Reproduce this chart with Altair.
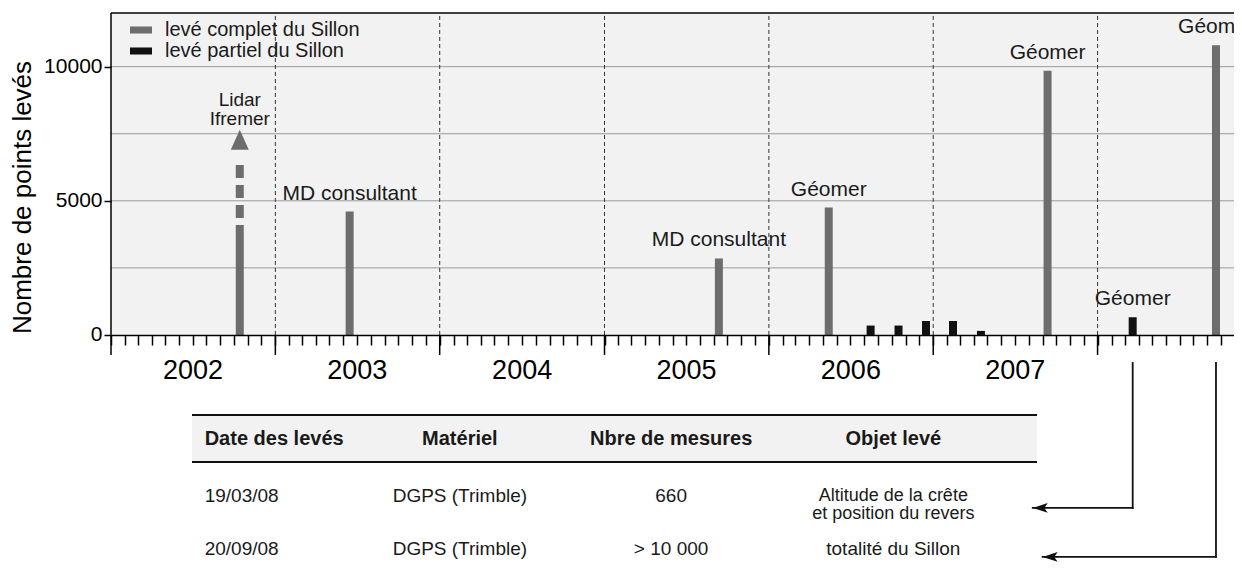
import json
import altair as alt
import pandas as pd

# ------------------------------------------------------------------ data
COMPLETE_LABEL = "levé complet du Sillon"
PARTIAL_LABEL = "levé partiel du Sillon"

complete_dates = ["2002-10-14", "2003-06-15", "2005-09-12", "2006-05-14", "2007-09-12", "2008-09-20"]
complete_values = [4100, 4600, 2850, 4750, 9850, 10800]

partial_dates = ["2006-08-15", "2006-10-16", "2006-12-16", "2007-02-14", "2007-04-17", "2008-03-19"]
partial_values = [350, 350, 520, 520, 150, 660]

# Lidar Ifremer: solid part, dashed extension and arrow tip
lidar_date = "2002-10-14"
lidar_dash_from = 4100
lidar_dash_to = 6600
lidar_tip = 7650
lidar_text = "Lidar\nIfremer"

annot_dates = ["2003-06-15", "2005-09-12", "2006-05-14", "2007-09-12", "2008-03-19", "2008-09-20"]
annot_values = [4600, 2850, 4750, 9850, 660, 10800]
annot_texts = ["MD consultant", "MD consultant", "Géomer", "Géomer", "Géomer", "Géomer"]

year_labels = ["2002", "2003", "2004", "2005", "2006", "2007"]
year_bounds = ["2002-01-01", "2003-01-01", "2004-01-01", "2005-01-01",
               "2006-01-01", "2007-01-01", "2008-01-01"]
grid_values = [2500, 5000, 7500, 10000]
y_tick_values = [0, 5000, 10000]

x_start, x_end = "2002-01-01", "2008-10-30"
y_top = 12000
y_min = -8500

table_header = ["Date des levés", "Matériel", "Nbre de mesures", "Objet levé"]
table_rows = [
    ["19/03/08", "DGPS (Trimble)", "660", "Altitude de la crête\net position du revers"],
    ["20/09/08", "DGPS (Trimble)", "> 10 000", "totalité du Sillon"],
]
# table layout (in table-fraction units for x, in chart y units for rows)
table_col_pos = [0.015, 0.317, 0.567, 0.83]
table_line_top, table_line_bottom = -2981, -4733
table_header_y = -3876
table_row_y = [-6000, -7975]

# arrows from the 2008 surveys to the table rows
arrow_dates = ["2008-03-19", "2008-09-20"]
arrow_tips = ["2007-08-10", "2007-09-01"]
arrow_rows = [-6447, -8273]

# ------------------------------------------------------------------ style
FONT = "Liberation Sans"
GRAY = "#6d6d6d"
BLACK = "#111111"
TEXT = "#1a1a1a"

W, H = 1123, 550

XS = alt.Scale(type="utc", nice=False, padding=0,
               domain=[alt.DateTime(year=2002, month=1, date=1, utc=True),
                       alt.DateTime(year=2008, month=10, date=30, utc=True)])
YS = alt.Scale(domain=[y_min, y_top], nice=False, zero=False, padding=0)

month_ticks = [alt.DateTime(year=y, month=m, date=1, utc=True)
               for y in range(2002, 2009) for m in range(1, 13) if (y, m) <= (2008, 10)]

label_expr = ("utcmonth(datum.value) == 6 && indexof(" + json.dumps(year_labels) +
              ", utcFormat(datum.value, '%Y')) >= 0 ? utcFormat(datum.value, '%Y') : ''")

zero_px = H * (y_top - 0) / (y_top - y_min)
XAXIS = alt.Axis(values=month_ticks, labelExpr=label_expr, tickSize=10, tickWidth=1.5,
                 tickColor="black", domainColor="black", domainWidth=1.5,
                 labelFontSize=27, labelColor="black", labelPadding=12,
                 labelOverlap=False, labelFlush=False, grid=False, title=None,
                 offset=round(zero_px - H), zindex=1)
YAXIS = alt.Axis(values=y_tick_values, format="d", domain=False, tickSize=7, tickWidth=1.5,
                 tickColor="black", labelFontSize=21, labelColor="black",
                 labelPadding=2, grid=False, title="Nombre de points levés",
                 titleFontSize=26, titleFontWeight="normal", titleColor="black",
                 titleAngle=270, titleX=-89, titleY=184, titleAlign="center",
                 titleBaseline="middle", zindex=1)


def X(field):
    return alt.X(f"{field}:T", scale=XS, axis=XAXIS)


def Y(field):
    return alt.Y(f"{field}:Q", scale=YS, axis=YAXIS, stack=None)


# ------------------------------------------------------------------ frames
frame = pd.DataFrame({"start": [x_start], "end": [x_end], "bottom": [0], "top": [y_top]})
grid_df = pd.DataFrame({"y": grid_values, "start": x_start, "end": x_end})
ylines_df = pd.DataFrame({"date": year_bounds[1:], "bottom": 0, "top": y_top})
yticks_df = pd.DataFrame({"date": year_bounds, "zero": 0})

bars_df = pd.concat([
    pd.DataFrame({"date": complete_dates, "value": complete_values, "type": COMPLETE_LABEL}),
    pd.DataFrame({"date": partial_dates, "value": partial_values, "type": PARTIAL_LABEL}),
], ignore_index=True)

lidar_df = pd.DataFrame({"date": [lidar_date], "from": [lidar_dash_from],
                         "to": [lidar_dash_to], "tip": [lidar_tip], "text": [lidar_text]})
annot_df = pd.DataFrame({"date": annot_dates, "value": annot_values, "text": annot_texts})
arrows_df = pd.DataFrame({"date": arrow_dates, "tip": arrow_tips, "row": arrow_rows, "zero": 0})

# ------------------------------------------------------------------ main layers
bg = alt.Chart(frame).mark_rect(color="#f2f2f2").encode(
    x=X("start"), x2="end", y=Y("bottom"), y2="top")

grid = alt.Chart(grid_df).mark_rule(color="#9a9a9a", strokeWidth=1).encode(
    x=X("start"), x2="end", y=Y("y"))

ylines = alt.Chart(ylines_df).mark_rule(color="#333333", strokeWidth=1, strokeDash=[4, 3]).encode(
    x=X("date"), y=Y("bottom"), y2="top")

yticks = alt.Chart(yticks_df).mark_rule(color="black", strokeWidth=1.5, y2Offset=20).encode(
    x=X("date"), y=Y("zero"), y2="zero")

top_border = alt.Chart(frame).mark_rule(color="black", strokeWidth=1.5).encode(
    x=X("start"), x2="end", y=Y("top"))

left_line = alt.Chart(frame).mark_rule(color="black", strokeWidth=1.5).encode(
    x=X("start"), y=Y("bottom"), y2="top")

bars = alt.Chart(bars_df).mark_bar(width=8).encode(
    x=X("date"), y=Y("value"),
    color=alt.Color("type:N",
                    scale=alt.Scale(domain=[COMPLETE_LABEL, PARTIAL_LABEL], range=[GRAY, BLACK]),
                    legend=alt.Legend(title=None, orient="none", legendX=19, legendY=6,
                                      symbolType="M-1,-0.32L1,-0.32L1,0.32L-1,0.32Z",
                                      symbolSize=484, symbolStrokeWidth=0, symbolOpacity=1,
                                      labelFontSize=20, labelColor=TEXT, labelOffset=13,
                                      labelLimit=0, rowPadding=0, padding=0)))

lidar_dash = alt.Chart(lidar_df).mark_rule(color=GRAY, strokeWidth=8, strokeDash=[13, 7],
                                           strokeDashOffset=13).encode(
    x=X("date"), y=Y("from"), y2="to")

lidar_head = alt.Chart(lidar_df).mark_point(shape="M0,-1L0.9,1L-0.9,1Z", size=400, filled=True,
                                            color=GRAY, opacity=1, strokeWidth=0, yOffset=10).encode(
    x=X("date"), y=Y("tip"))

lidar_label = alt.Chart(lidar_df).mark_text(fontSize=19, dy=-30, baseline="middle", align="center",
                                            lineBreak="\n", lineHeight=19, color=TEXT).encode(
    x=X("date"), y=Y("tip"), text="text:N")

annots = alt.Chart(annot_df).mark_text(fontSize=21, dy=-18, baseline="middle", align="center",
                                       color=TEXT).encode(
    x=X("date"), y=Y("value"), text="text:N")

arrow_v = alt.Chart(arrows_df).mark_rule(color=BLACK, strokeWidth=1.8, yOffset=28,
                                         strokeCap="square").encode(
    x=X("date"), y=Y("zero"), y2="row")
arrow_h = alt.Chart(arrows_df).mark_rule(color=BLACK, strokeWidth=1.8, strokeCap="square").encode(
    x=X("date"), x2="tip", y=Y("row"))
arrow_head = alt.Chart(arrows_df).mark_point(shape="M-1,0L1,-0.65L0.55,0L1,0.65Z", size=225,
                                             filled=True, color=BLACK, opacity=1, strokeWidth=0,
                                             xOffset=7.5).encode(
    x=X("tip"), y=Y("row"))

main = alt.layer(bg, grid, ylines, bars, lidar_dash, lidar_head, yticks, top_border,
                 left_line, lidar_label, annots, arrow_v, arrow_h, arrow_head)

# ------------------------------------------------------------------ table layers
TS = alt.Scale(domain=[0, 1], range=[81, 926], nice=False, zero=False)


def TX(field):
    return alt.X(f"{field}:Q", scale=TS, axis=None)


tframe = pd.DataFrame({"x0": [0], "x1": [1], "top": [table_line_top], "bottom": [table_line_bottom]})
tlines = pd.DataFrame({"x0": 0, "x1": 1, "y": [table_line_top, table_line_bottom]})

cells = []
for c, t in enumerate(table_header):
    cells.append({"pos": table_col_pos[c], "y": table_header_y, "text": t, "col": c, "head": 1})
for r, row in enumerate(table_rows):
    for c, t in enumerate(row):
        cells.append({"pos": table_col_pos[c], "y": table_row_y[r], "text": t, "col": c, "head": 0})
cells_df = pd.DataFrame(cells)
cells_df["fs"] = [20 if h else (18 if "\n" in t else 19)
                  for h, t in zip(cells_df["head"], cells_df["text"])]

theader_bg = alt.Chart(tframe).mark_rect(color="#f2f2f2").encode(
    x=TX("x0"), x2="x1", y=Y("top"), y2="bottom")
tline = alt.Chart(tlines).mark_rule(color=BLACK, strokeWidth=2).encode(
    x=TX("x0"), x2="x1", y=Y("y"))


def cell_layer(head, left):
    cond = f"datum.head == {head} && " + ("datum.col == 0" if left else "datum.col > 0")
    return alt.Chart(cells_df).transform_filter(cond).mark_text(
        fontWeight="bold" if head else "normal", color=TEXT,
        align="left" if left else "center", baseline="middle",
        lineBreak="\n", lineHeight=18).encode(
        x=TX("pos"), y=Y("y"), text="text:N",
        size=alt.Size("fs:Q", scale=None, legend=None))


table = alt.layer(theader_bg, tline,
                  cell_layer(1, True), cell_layer(1, False),
                  cell_layer(0, True), cell_layer(0, False))

chart = alt.layer(main, table).resolve_scale(x="independent").properties(
    width=W, height=H,
    autosize=alt.AutoSizeParams(type="none"),
    padding={"left": 103, "top": 5, "right": 0, "bottom": 0},
).configure(font=FONT).configure_view(strokeWidth=0)

chart.save("out.html", embed_options={"renderer": "svg", "actions": False})
